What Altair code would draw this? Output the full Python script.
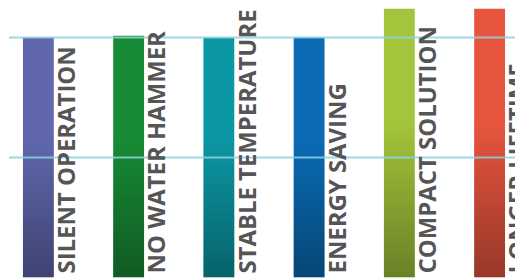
import altair as alt
import pandas as pd

categories = ["SILENT OPERATION", "NO WATER HAMMER", "STABLE TEMPERATURE",
              "ENERGY SAVING", "COMPACT SOLUTION", "LONGER LIFETIME"]
values = [100, 100.7, 100, 100, 125, 125]
colors = ["#6067AD", "#178B35", "#0B97A3", "#0A6BB4", "#A3C53B", "#E8553E"]
gridlines = [50, 100]

df = pd.DataFrame({"cat": categories, "val": values})
gdf = pd.DataFrame({"g": gridlines})

xs = alt.Scale(paddingInner=0.658, paddingOuter=0.1326, align=0.583, round=False)
ys = alt.Scale(domain=[0, 112.03], clamp=True, nice=False, zero=True)

X = alt.X("cat:N", sort=categories, scale=xs, axis=None)
Y = alt.Y("val:Q", scale=ys, axis=None)

bars = alt.Chart(df).mark_bar(clip=True).encode(
    x=X, y=Y,
    color=alt.Color("cat:N", sort=categories,
                    scale=alt.Scale(domain=categories, range=colors), legend=None),
)

shade = alt.Chart(df).mark_bar(
    clip=True,
    color=alt.Gradient(
        gradient="linear",
        stops=[alt.GradientStop(offset=0, color="rgba(0,0,0,0)"),
               alt.GradientStop(offset=0.42, color="rgba(0,0,0,0)"),
               alt.GradientStop(offset=1, color="rgba(0,0,0,0.35)")],
        x1=0, x2=0, y1=0, y2=1,
    )
).encode(x=X, y=Y)

rules = alt.Chart(gdf).mark_rule(color="#8fd0e2", strokeWidth=2, opacity=0.85).encode(
    y=alt.Y("g:Q", scale=ys, axis=None)
)

labels = alt.Chart(df).mark_text(
    angle=270, align="left", baseline="middle", font="Open Sans",
    fontWeight="bold", fontSize=24, color="#555555", dx=4, dy=30, clip=True,
).encode(x=X, y=alt.datum(0), text="cat:N")

chart = alt.layer(bars, shade, rules, labels).properties(
    width=508, height=270, padding=0, background="white"
).configure_view(stroke=None)

chart.save("out.html", embed_options={"renderer": "svg", "actions": False})
